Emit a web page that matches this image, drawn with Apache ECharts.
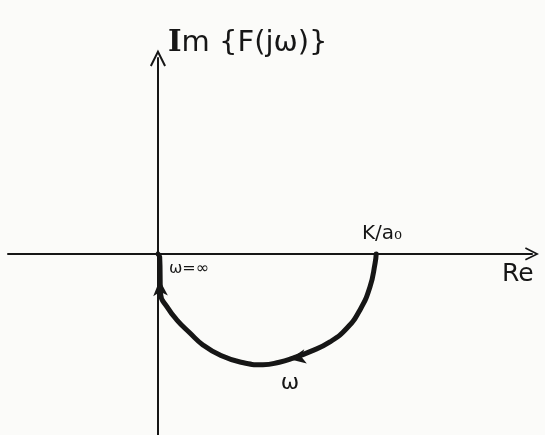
<!DOCTYPE html>
<html>
<head>
<meta charset="utf-8">
<script src="https://cdn.jsdelivr.net/npm/echarts@6/dist/echarts.min.js"></script>
<style>html,body{margin:0;padding:0;background:#fbfbf9;}#c{width:545px;height:435px;}</style>
</head>
<body>
<div id="c"></div>
<script>
// Nyquist locus of F(jw) (units of K/a0)
var locusRe = [1.01, 1.005, 0.981, 0.935, 0.875, 0.796, 0.704, 0.625, 0.562, 0.486, 0.38, 0.287, 0.208, 0.148, 0.088, 0.042, 0.012, 0.008, 0];
var locusIm = [0, -0.042, -0.153, -0.259, -0.343, -0.407, -0.452, -0.482, -0.501, -0.513, -0.5, -0.468, -0.421, -0.366, -0.306, -0.245, -0.185, -0.014, 0];
// direction arrows on the locus: [re, im]
var arrowRe = [0.61, 0.008];
var arrowIm = [-0.487, -0.12];
// annotations
var noteText = ['K/a\u2080', '\u03c9=\u221e', '\u03c9'];
var noteRe = [1.0, 0.0, 0.62];
var noteIm = [0.0, 0.0, -0.51];
var axisNameX = 'Re';
var axisNameY = '{b|I}m \u007bF(j\u03c9)\u007d';

var ink = '#161616';
var locus = locusRe.map(function (r, i) { return [r, locusIm[i]]; });
var arrows = arrowRe.map(function (r, i) { return [r, arrowIm[i]]; });

var chevron = 'path://M0,0 L9,18 L7,19 L0,5 L-7,19 L-9,18 Z';
var noteStyle = [
  {position: 'top', distance: 10, fontSize: 20, offset: [8, 0]},
  {position: 'insideTopLeft', fontSize: 16, offset: [6, 2]},
  {position: 'bottom', fontSize: 22, distance: 8, offset: [-2, 0]}
];
var notes = noteText.map(function (t, i) {
  var l = Object.assign({show: true, color: ink, fontFamily: 'DejaVu Sans', formatter: t}, noteStyle[i]);
  return {name: t, value: [noteRe[i], noteIm[i]], label: l};
});

var chart = echarts.init(document.getElementById('c'));
chart.setOption({
  backgroundColor: '#fbfbf9',
  animation: false,
  grid: {left: 8, right: 13, top: 58, bottom: 0},
  xAxis: {
    type: 'value', min: -0.694, max: 1.731,
    axisLine: {onZero: true, lineStyle: {color: ink, width: 2}, symbol: ['none', chevron], symbolSize: [16, 14]},
    axisTick: {show: false}, axisLabel: {show: false}, splitLine: {show: false},
    name: axisNameX, nameLocation: 'end', nameGap: -30,
    nameTextStyle: {color: ink, fontSize: 25, fontFamily: 'DejaVu Sans', verticalAlign: 'top', align: 'left', padding: [8, 0, 0, 0]}
  },
  yAxis: {
    type: 'value', min: -0.838, max: 0.907,
    axisLine: {onZero: true, lineStyle: {color: ink, width: 2}, symbol: ['none', chevron], symbolSize: [16, 26]},
    axisTick: {show: false}, axisLabel: {show: false}, splitLine: {show: false},
    name: axisNameY, nameLocation: 'end', nameGap: 0,
    nameTextStyle: {color: ink, fontSize: 29, fontFamily: 'DejaVu Sans', align: 'left', verticalAlign: 'bottom', padding: [0, 0, 0, 10],
      rich: {b: {fontSize: 29, fontWeight: 'bold', fontFamily: 'DejaVu Serif', color: ink}}}
  },
  series: [
    {
      type: 'line', data: locus, smooth: 0.5, symbol: 'none',
      lineStyle: {color: ink, width: 5, cap: 'round', join: 'round'}
    },
    {
      type: 'scatter', data: arrows, symbol: 'arrow', symbolSize: [11, 16],
      symbolRotate: function (v, p) { return p.dataIndex === 0 ? automaticAngle(0) : 3; },
      itemStyle: {color: ink, opacity: 1}
    },
    {
      type: 'scatter', data: notes, symbolSize: 0, itemStyle: {color: ink, opacity: 1}
    }
  ]
});
function automaticAngle() { return 100; }
</script>
</body>
</html>
